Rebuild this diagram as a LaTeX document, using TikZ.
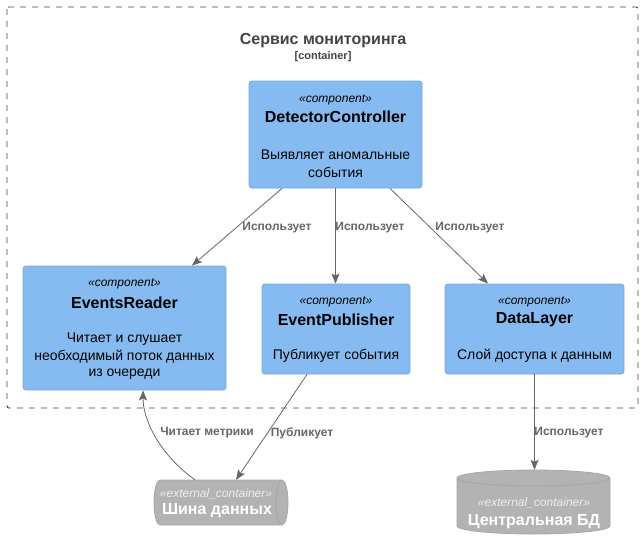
\documentclass[tikz,border=0pt]{standalone}
\usepackage{fontspec}
\setmainfont{Liberation Sans}
\usetikzlibrary{calc,arrows.meta}
\definecolor{compfill}{HTML}{85BBF0}
\definecolor{compline}{HTML}{78A8D8}
\definecolor{extfill}{HTML}{B3B3B3}
\definecolor{extline}{HTML}{A6A6A6}
\definecolor{relline}{HTML}{666666}
\definecolor{bndline}{HTML}{444444}
\tikzset{
  compbox/.style={draw=compline, fill=compfill, line width=0.8pt, rounded corners=3pt, inner sep=0pt},
  stereo/.style={font=\fontsize{12}{14}\selectfont\itshape, inner sep=0pt},
  cname/.style={font=\fontsize{16}{19}\selectfont\bfseries, inner sep=0pt},
  cdesc/.style={font=\fontsize{14}{17}\selectfont, inner sep=0pt},
  extstereo/.style={font=\fontsize{12}{14}\selectfont\itshape, text=white!93!black, inner sep=0pt},
  extname/.style={font=\fontsize{16}{19}\selectfont\bfseries, text=white, inner sep=0pt},
  rellabel/.style={font=\fontsize{12}{14}\selectfont\bfseries, text=relline, inner sep=0pt},
  rel/.style={draw=relline, line width=0.8pt, -{Stealth[length=10pt,width=8pt,inset=2pt]}},
  ghost/.style={inner sep=0pt, draw=none}
}
\begin{document}
\begin{tikzpicture}[x=1pt,y=-1pt]
\useasboundingbox (0,0) rectangle (644,551);
% boundary
\draw[bndline, line width=0.9pt, dash pattern=on 6pt off 6pt, rounded corners=2pt] (7,7) rectangle (638,408);
\node[font=\fontsize{16}{19}\selectfont\bfseries, text=bndline, inner sep=0pt] (btitle) at (323,41) {Сервис мониторинга};
\node[font=\fontsize{11}{13}\selectfont\bfseries, text=bndline, inner sep=0pt] (bsub) at (323,57) {[container]};

% components
\node[compbox, minimum width=173pt, minimum height=107pt] (dc) at (335.5,134.5) {};
\node[stereo] (dcst) at (335.5,100) {«component»};
\node[cname] (dcnm) at (335.5,117) {DetectorController};
\node[cdesc] (dcd1) at (335.5,155) {Выявляет аномальные};
\node[cdesc] (dcd2) at (335.5,172) {события};

\node[compbox, minimum width=203pt, minimum height=124pt] (er) at (124.5,328) {};
\node[stereo] (erst) at (124.5,284) {«component»};
\node[cname] (ernm) at (124.5,302.5) {EventsReader};
\node[cdesc] (erd1) at (124.5,339) {Читает и слушает};
\node[cdesc] (erd2) at (124.5,357) {необходимый поток данных};
\node[cdesc] (erd3) at (124.5,374.5) {из очереди};

\node[compbox, minimum width=148pt, minimum height=90pt] (ep) at (336,329) {};
\node[stereo] (epst) at (336,302) {«component»};
\node[cname] (epnm) at (336,320) {EventPublisher};
\node[cdesc] (epd1) at (336,356) {Публикует события};

\node[compbox, minimum width=179pt, minimum height=90pt] (dl) at (534.5,329) {};
\node[stereo] (dlst) at (534.5,302) {«component»};
\node[cname] (dlnm) at (534.5,320) {DataLayer};
\node[cdesc] (dld1) at (534.5,356) {Слой доступа к данным};

% bus (horizontal cylinder)
\draw[fill=extfill, draw=extline, line width=0.8pt]
  (160,480) -- (282,480) arc[start angle=-90, end angle=90, x radius=6, y radius=22.5]
  -- (160,525) arc[start angle=90, end angle=270, x radius=6, y radius=22.5] -- cycle;
\draw[extline, line width=0.8pt] (282,480) arc[start angle=-90, end angle=-270, x radius=6, y radius=22.5];
\node[ghost, minimum width=134pt, minimum height=45pt] (bus) at (221,502.5) {};
\node[extstereo] (busst) at (216,494) {«external\_container»};
\node[extname] (busnm) at (217,511) {Шина данных};

% database (vertical cylinder)
\draw[fill=extfill, draw=extline, line width=0.8pt]
  (457,478) -- (457,526) arc[start angle=180, end angle=0, x radius=76.5, y radius=8]
  -- (610,478) arc[start angle=0, end angle=-180, x radius=76.5, y radius=8] -- cycle;
\draw[extline, line width=0.8pt] (457,478) arc[start angle=180, end angle=0, x radius=76.5, y radius=8];
\node[ghost, minimum width=153pt, minimum height=64pt] (db) at (533.5,502) {};
\node[extstereo] (dbst) at (534,503) {«external\_container»};
\node[extname] (dbnm) at (534,521.5) {Центральная БД};

% relations
\draw[rel] ($(dc.south)+(-53.5,0)$) -- ($(er.north)+(67.5,0)$);
\node[rellabel] (l1) at (277,228) {Использует};
\draw[rel] (dc.south) -- (dc.south |- ep.north);
\node[rellabel] (l2) at (370,228) {Использует};
\draw[rel] ($(dc.south)+(54.5,0)$) -- ($(dl.north)+(-46.5,0)$);
\node[rellabel] (l3) at (470,228) {Использует};
\draw[rel] ($(bus.north)+(-26,0)$) .. controls (160,455) and (143,420) .. ($(er.south)+(18.5,0)$);
\node[rellabel] (l4) at (207,433) {Читает метрики};
\draw[rel] ($(ep.south)+(-29,0)$) -- ($(bus.north)+(15,0)$);
\node[rellabel] (l5) at (302,433) {Публикует};
\draw[rel] (dl.south) -- (dl.south |- db.north);
\node[rellabel] (l6) at (569,433) {Использует};
\end{tikzpicture}
\end{document}
